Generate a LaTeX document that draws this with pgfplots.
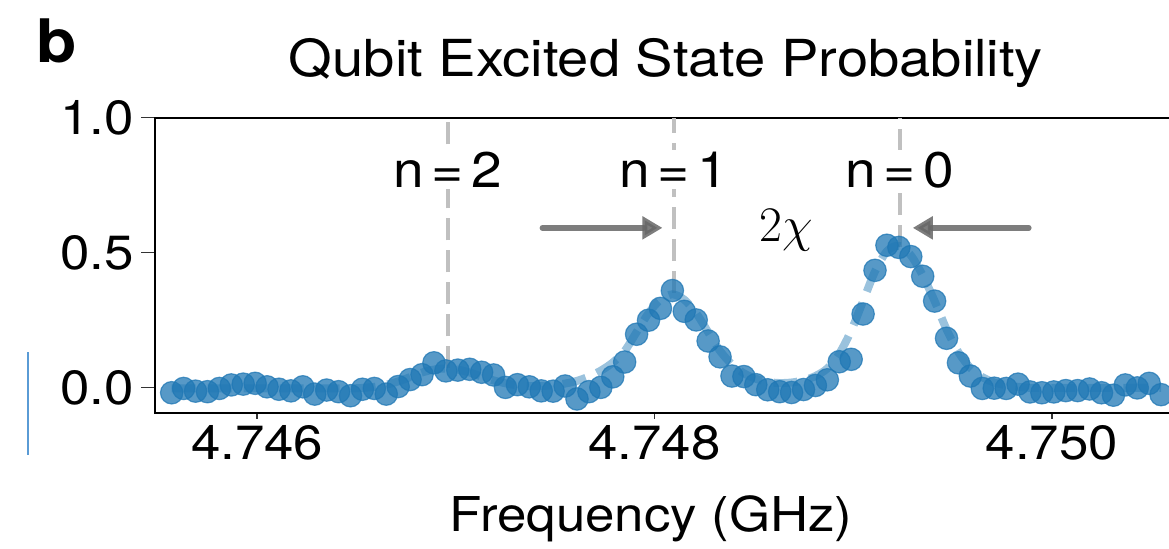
\documentclass[border=0pt]{standalone}
\usepackage{fontspec}
\setmainfont{TeX Gyre Heros}[FakeStretch=1.1]
\usepackage{pgfplots}
\usepackage{pgfplotstable}
\pgfplotsset{compat=1.18}
\usetikzlibrary{arrows.meta}

\definecolor{tabblue}{RGB}{31,119,180}
\definecolor{guide}{RGB}{192,192,192}
\definecolor{sideblue}{RGB}{90,155,213}

\newcommand\tickfont{\fontsize{24}{29}\selectfont}
\newcommand\labfont{\fontsize{25}{30}\selectfont}

% measured excited-state probability and fitted curve
\pgfplotstableread{
f        p       fit
4.74557  -0.020  -0.004
4.74563  -0.004  -0.004
4.74569  -0.014  -0.004
4.74575  -0.016  -0.004
4.74581  -0.004  -0.004
4.74587   0.009  -0.004
4.74593   0.012  -0.004
4.74599   0.015  -0.004
4.74605   0.002  -0.004
4.74611  -0.007  -0.004
4.74617  -0.013  -0.004
4.74623   0.002  -0.004
4.74629  -0.025  -0.004
4.74635  -0.010  -0.004
4.74641  -0.016  -0.004
4.74647  -0.031  -0.004
4.74653  -0.007  -0.002
4.74659  -0.004   0.002
4.74665  -0.025   0.010
4.74671   0.003   0.022
4.74677   0.029   0.038
4.74683   0.047   0.055
4.74689   0.091   0.066
4.74695   0.061   0.070
4.74701   0.064   0.066
4.74707   0.067   0.055
4.74713   0.056   0.040
4.74719   0.046   0.026
4.74725   0.000   0.015
4.74731   0.010   0.008
4.74737   0.002   0.005
4.74743  -0.013   0.005
4.74749  -0.014   0.008
4.74755   0.005   0.014
4.74761  -0.043   0.024
4.74767  -0.016   0.040
4.74773   0.000   0.062
4.74779   0.039   0.092
4.74785   0.094   0.135
4.74791   0.197   0.205
4.74797   0.249   0.275
4.74803   0.293   0.325
4.74809   0.359   0.345
4.74815   0.282   0.325
4.74821   0.250   0.275
4.74827   0.172   0.205
4.74833   0.113   0.135
4.74839   0.042   0.085
4.74845   0.040   0.052
4.74851   0.010   0.032
4.74857  -0.009   0.020
4.74863  -0.016   0.016
4.74869  -0.019   0.018
4.74875  -0.008   0.026
4.74881   0.007   0.042
4.74887   0.028   0.070
4.74893   0.095   0.125
4.74899   0.104   0.210
4.74905   0.272   0.320
4.74911   0.434   0.430
4.74917   0.527   0.505
4.74923   0.519   0.525
4.74929   0.485   0.490
4.74935   0.412   0.415
4.74941   0.320   0.320
4.74947   0.182   0.215
4.74953   0.091   0.130
4.74959   0.042   0.072
4.74965  -0.004   0.038
4.74971  -0.003   0.018
4.74977  -0.004   0.008
4.74983   0.012   0.002
4.74989  -0.017  -0.002
4.74995  -0.020  -0.002
4.75001  -0.017  -0.002
4.75007  -0.012  -0.002
4.75013  -0.012  -0.002
4.75019  -0.006  -0.002
4.75025  -0.020  -0.002
4.75031  -0.029  -0.002
4.75037   0.009  -0.002
4.75043  -0.002  -0.002
4.75049   0.015  -0.002
4.75055  -0.027  -0.002
}\spectrum

\pgfplotsset{
  qubitframe/.style={
    scale only axis, width=511pt, height=147.5pt,
    xmin=4.745486, xmax=4.75063, ymin=-0.094, ymax=1.0,
    tick align=outside,
    axis line style={line width=1.15pt, black},
    every tick/.style={line width=0.75pt, black!80},
    /pgf/number format/assume math mode=true,
    tick label style={font=\tickfont},
  },
}

\begin{document}
\begin{tikzpicture}
% main frame, data and y ticks
\begin{axis}[qubitframe,
  major tick length=7pt,
  xtick=\empty,
  ytick={0,0.5,1.0}, yticklabels={0.0,0.5,1.0},
  title={Qubit Excited State Probability},
  title style={font=\fontsize{25.5}{30}\selectfont, at={(axis description cs:0.5,1)}, anchor=base, yshift=14.85pt},
  xlabel={Frequency (GHz)},
  xlabel style={font=\tickfont, at={(axis description cs:0.4853,0)}, anchor=base, yshift=-59.5pt},
]
% photon-number resonance positions
\addplot[guide, line width=2pt, dash pattern=on 11pt off 5pt] coordinates {(4.74696,0.07) (4.74696,1.0)};
\addplot[guide, line width=2pt, dash pattern=on 11pt off 5pt] coordinates {(4.748098,0.35) (4.748098,1.0)};
\addplot[guide, line width=2pt, dash pattern=on 11pt off 5pt] coordinates {(4.749234,0.52) (4.749234,1.0)};
% fit
\addplot[tabblue, opacity=0.45, line width=4pt, dash pattern=on 12pt off 6pt, smooth] table[x=f, y=fit] {\spectrum};
% data
\addplot[only marks, mark=*, mark size=5.6pt,
  mark options={fill=tabblue, draw=tabblue, line width=0.6pt, fill opacity=0.75, draw opacity=0.75}]
  table[x=f, y=p] {\spectrum};
% labels and dispersive-shift arrows
\node[fill=white, inner sep=1pt, font=\labfont] at (axis cs:4.74696,0.807) {n\hspace{0.15em}=\hspace{0.15em}2};
\node[fill=white, inner sep=1pt, font=\labfont] at (axis cs:4.748098,0.807) {n\hspace{0.15em}=\hspace{0.15em}1};
\node[fill=white, inner sep=1pt, font=\labfont] at (axis cs:4.749234,0.807) {n\hspace{0.15em}=\hspace{0.15em}0};
\draw[-{Triangle[length=10pt,width=11pt]}, line width=2.8pt, black!60, opacity=0.85, line cap=round]
  (axis cs:4.747436,0.5915) -- (axis cs:4.748040,0.5915);
\draw[-{Triangle[length=10pt,width=11pt]}, line width=2.8pt, black!60, opacity=0.85, line cap=round]
  (axis cs:4.749884,0.5915) -- (axis cs:4.749300,0.5915);
\node[anchor=base, inner sep=0pt, font=\fontsize{33}{40}\selectfont] at (axis cs:4.748665,0.5396) {$2\chi$};
\end{axis}
% x ticks with their own length
\begin{axis}[qubitframe,
  major tick length=3pt,
  axis x line*=bottom, axis y line=none,
  ytick=\empty,
  xtick={4.746,4.748,4.750}, xticklabels={4.746,4.748,4.750},
]
\end{axis}
\node[anchor=base west, inner sep=0pt, font=\bfseries\fontsize{30}{36}\selectfont] at (-59.5pt,175.35pt) {b};
\draw[sideblue, line width=1pt] (-63.5pt,30.35pt) -- (-63.5pt,-21.15pt);
\pgfresetboundingbox
\useasboundingbox (-77.5pt,-67.65pt) rectangle (507pt,206.35pt);
\end{tikzpicture}
\end{document}
